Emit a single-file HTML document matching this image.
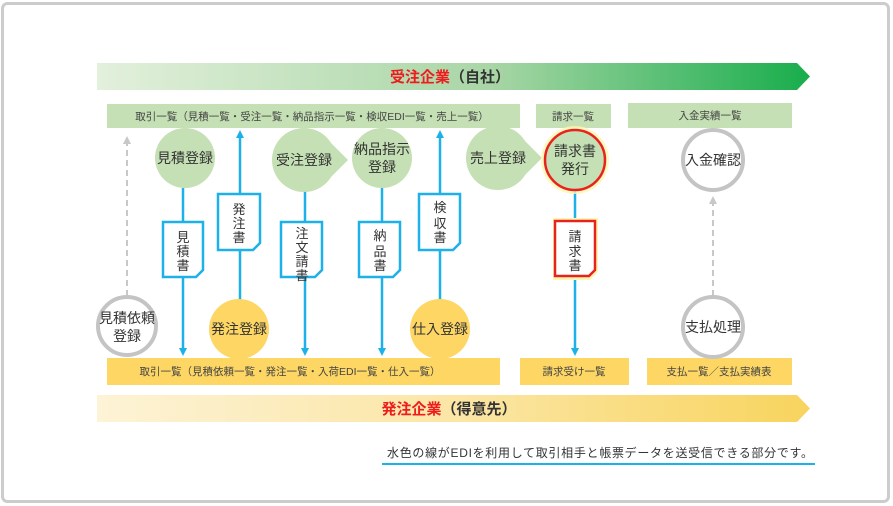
<!DOCTYPE html>
<html><head><meta charset="utf-8"><style>
html,body{margin:0;padding:0;background:#fff;}
svg{display:block;font-family:"Liberation Sans","Noto Sans CJK JP",sans-serif;}
</style></head><body>
<svg width="893" height="506" viewBox="0 0 893 506" xmlns="http://www.w3.org/2000/svg">
<defs>
<linearGradient id="gg" x1="0" x2="1" y1="0" y2="0"><stop offset="0" stop-color="#e3f0dc"/><stop offset="0.55" stop-color="#a9d6a6"/><stop offset="1" stop-color="#18ad4c"/></linearGradient>
<linearGradient id="yg" x1="0" x2="1" y1="0" y2="0"><stop offset="0" stop-color="#fdf3d6"/><stop offset="0.5" stop-color="#fbe6a6"/><stop offset="1" stop-color="#f8d45e"/></linearGradient>
<marker id="ab" markerWidth="8" markerHeight="8" refX="4" refY="4" orient="auto" markerUnits="userSpaceOnUse"><path d="M0,0 L8,4 L0,8 z" fill="#1eb0e8"/></marker>
<marker id="ag" markerWidth="8" markerHeight="8" refX="4" refY="4" orient="auto" markerUnits="userSpaceOnUse"><path d="M0,0 L8,4 L0,8 z" fill="#c8c8c8"/></marker>
</defs>
<rect x="2.5" y="3.5" width="886" height="498" rx="5" fill="#fff" stroke="#cccccc" stroke-width="3"/>
<path d="M97,63 H797 L810,76.5 L797,90 H97 z" fill="url(#gg)"/>
<text x="450" y="82" font-size="15" font-weight="bold" text-anchor="middle"><tspan fill="#ee1c1c">受注企業</tspan><tspan fill="#333">（自社）</tspan></text>
<rect x="107" y="104" width="413" height="24" fill="#c5e0b4"/>
<text x="312" y="120" font-size="10.5" fill="#444" text-anchor="middle">取引一覧（見積一覧・受注一覧・納品指示一覧・検収EDI一覧・売上一覧）</text>
<rect x="536" y="104" width="75" height="24" fill="#c5e0b4"/>
<text x="573" y="120" font-size="10.5" fill="#444" text-anchor="middle">請求一覧</text>
<rect x="628" y="103" width="164" height="25" fill="#c5e0b4"/>
<text x="710" y="119" font-size="10.5" fill="#444" text-anchor="middle">入金実績一覧</text>
<rect x="107" y="358" width="393" height="27" fill="#fdd664"/>
<text x="290" y="375" font-size="10.5" fill="#444" text-anchor="middle">取引一覧（見積依頼一覧・発注一覧・入荷EDI一覧・仕入一覧）</text>
<rect x="520" y="358" width="109" height="27" fill="#fdd664"/>
<text x="574" y="375" font-size="10.5" fill="#444" text-anchor="middle">請求受け一覧</text>
<rect x="647" y="358" width="145" height="27" fill="#fdd664"/>
<text x="719" y="375" font-size="10.5" fill="#444" text-anchor="middle">支払一覧／支払実績表</text>
<path d="M97,395 H797 L810,408.5 L797,422 H97 z" fill="url(#yg)"/>
<text x="449" y="414" font-size="15" font-weight="bold" text-anchor="middle"><tspan fill="#ee1c1c">発注企業</tspan><tspan fill="#333">（得意先）</tspan></text>
<line x1="127" y1="296" x2="127" y2="140" stroke="#c8c8c8" stroke-width="2" stroke-dasharray="6,4" marker-end="url(#ag)"/>
<line x1="713" y1="296" x2="713" y2="200" stroke="#c8c8c8" stroke-width="2" stroke-dasharray="6,4" marker-end="url(#ag)"/>
<g stroke="#1eb0e8" stroke-width="2.5" fill="none">
<line x1="183" y1="188" x2="183" y2="352" marker-end="url(#ab)"/>
<line x1="240" y1="300" x2="240" y2="134" marker-end="url(#ab)"/>
<line x1="305" y1="190" x2="305" y2="352" marker-end="url(#ab)"/>
<line x1="382" y1="188" x2="382" y2="352" marker-end="url(#ab)"/>
<line x1="440" y1="300" x2="440" y2="134" marker-end="url(#ab)"/>
<line x1="575" y1="190" x2="575" y2="352" marker-end="url(#ab)"/>
</g>
<g fill="#c5e0b4">
<circle cx="185" cy="158" r="30"/>
<circle cx="304" cy="160" r="32"/><path d="M320,132 L348,160 L320,188 z"/>
<circle cx="382" cy="158" r="30"/>
<circle cx="498" cy="158" r="32"/><path d="M514,130 L542,158 L514,186 z"/>
</g>
<g font-size="14" fill="#333" text-anchor="middle">
<text x="185" y="163">見積登録</text>
<text x="304" y="165">受注登録</text>
<text x="382" y="154">納品指示</text><text x="382" y="172">登録</text>
<text x="498" y="163">売上登録</text>
</g>
<circle cx="575" cy="160" r="34" fill="#fdf6b0" opacity="0.8"/>
<circle cx="575" cy="160" r="30" fill="#c5e0b4" stroke="#e8231e" stroke-width="2.5"/>
<text x="575" y="156" font-size="14" fill="#333" text-anchor="middle">請求書</text>
<text x="575" y="174" font-size="14" fill="#333" text-anchor="middle">発行</text>
<g fill="#fff" stroke="#c4c4c4" stroke-width="4">
<circle cx="127" cy="326" r="29"/>
<circle cx="713" cy="160" r="30"/>
<circle cx="713" cy="327" r="30"/>
</g>
<g font-size="14" fill="#333" text-anchor="middle">
<text x="127" y="323">見積依頼</text><text x="127" y="341">登録</text>
<text x="713" y="165">入金確認</text>
<text x="713" y="332">支払処理</text>
</g>
<circle cx="239" cy="329" r="30" fill="#fdd664"/>
<circle cx="440" cy="329" r="30" fill="#fdd664"/>
<text x="239" y="334" font-size="14" fill="#333" text-anchor="middle">発注登録</text>
<text x="440" y="334" font-size="14" fill="#333" text-anchor="middle">仕入登録</text>
<g fill="#fff" stroke="#1eb0e8" stroke-width="2.5">
<path d="M163,222 H203 V270 L196,277 H163 z"/>
<path d="M218,194 H260 V243 L253,250 H218 z"/>
<path d="M281,222 H322 V270 L315,277 H281 z"/>
<path d="M359,222 H400 V270 L393,277 H359 z"/>
<path d="M419,194 H460 V243 L453,250 H419 z"/>
</g>
<path d="M553,218 H598 V272 L590,280 H553 z" fill="#fdf6b0"/>
<path d="M555,221 H595 V270 L589,276 H555 z" fill="#fff" stroke="#e8231e" stroke-width="2.5"/>
<g font-size="13" fill="#333" text-anchor="middle">
<text x="183" y="242">見</text><text x="183" y="256">積</text><text x="183" y="270">書</text>
<text x="239" y="214">発</text><text x="239" y="228">注</text><text x="239" y="242">書</text>
<text x="302" y="238">注</text><text x="302" y="252">文</text><text x="302" y="266">請</text><text x="302" y="280">書</text>
<text x="380" y="240">納</text><text x="380" y="256">品</text><text x="380" y="270">書</text>
<text x="440" y="212">検</text><text x="440" y="228">収</text><text x="440" y="242">書</text>
<text x="575" y="241">請</text><text x="575" y="256">求</text><text x="575" y="270">書</text>
</g>
<text x="387" y="457" font-size="12" letter-spacing="0.7" fill="#333">水色の線がEDIを利用して取引相手と帳票データを送受信できる部分です。</text>
<line x1="382" y1="464" x2="815" y2="464" stroke="#1eb0e8" stroke-width="2"/>
</svg>
</body></html>
